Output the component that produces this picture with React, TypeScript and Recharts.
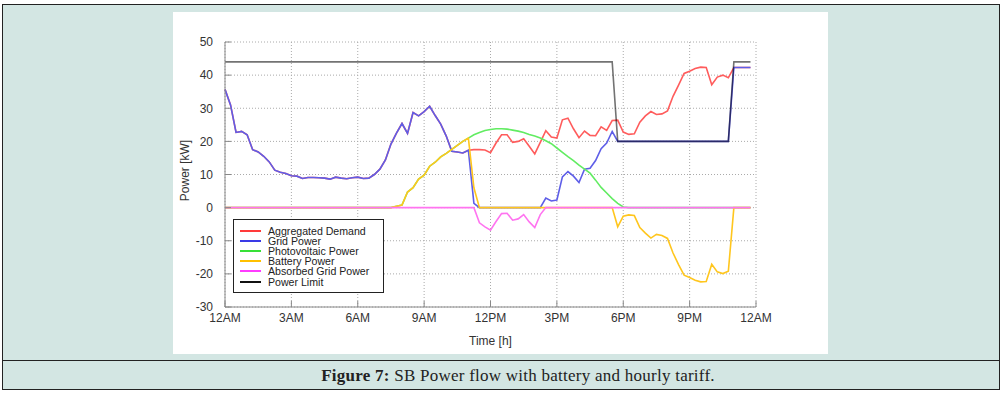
import { CartesianGrid, Legend, Line, LineChart, XAxis, YAxis } from 'recharts';

// 15-minute samples from 12AM (index 0) to 11:45PM (index 95), kW
const demand = [
  35.7, 31, 22.7, 23, 22, 17.5, 16.8, 15.5, 13.8, 11.3, 10.7, 10.3,
  9.6, 9.5, 8.8, 9.1, 9.1, 9.0, 8.9, 8.6, 9.2, 8.9, 8.7, 9.0,
  9.2, 8.8, 8.9, 10.0, 11.6, 14.4, 19.2, 22.5, 25.4, 22.4, 28.7, 27.7,
  29.0, 30.6, 27.8, 25.2, 21.6, 17, 16.8, 16.5, 17.3, 17.5, 17.5, 17.4,
  16.6, 19.5, 22, 22, 19.7, 20, 20.8, 18.5, 16.2, 19.7, 23.2, 21.3,
  21, 26.5, 27, 23.8, 21.1, 23.1, 21.8, 21.7, 24.4, 23.3, 26.3, 26.4,
  22.8, 22.1, 22.3, 25.8, 27.7, 29, 28.1, 28.3, 29.2, 33.6, 37, 40.5,
  41.2, 42, 42.4, 42.3, 37.1, 39.4, 40, 39.2, 42.3, 42.3, 42.3, 42.3,
];
const grid = [
  35.7, 31, 22.7, 23, 22, 17.5, 16.8, 15.5, 13.8, 11.3, 10.7, 10.3,
  9.6, 9.5, 8.8, 9.1, 9.1, 9.0, 8.9, 8.6, 9.2, 8.9, 8.7, 9.0,
  9.2, 8.8, 8.9, 10.0, 11.6, 14.4, 19.2, 22.5, 25.4, 22.4, 28.7, 27.7,
  29.0, 30.6, 27.8, 25.2, 21.6, 17, 16.8, 16.5, 17.3, 1.3, 0, 0,
  0, 0, 0, 0, 0, 0, 0, 0, 0, 0, 2.9, 2.0,
  2.3, 9.3, 10.9, 9.5, 7.6, 11.6, 11.9, 14.2, 17.8, 19.5, 23, 20,
  20, 20, 20, 20, 20, 20, 20, 20, 20, 20, 20, 20,
  20, 20, 20, 20, 20, 20, 20, 20, 42.3, 42.3, 42.3, 42.3,
];
const photovoltaic = [
  0, 0, 0, 0, 0, 0, 0, 0, 0, 0, 0, 0,
  0, 0, 0, 0, 0, 0, 0, 0, 0, 0, 0, 0,
  0, 0, 0, 0, 0, 0, 0, 0.4, 0.8, 4.7, 6.0, 8.6,
  9.8, 12.5, 13.7, 15.3, 16.4, 17.6, 18.8, 20, 21, 22, 22.7, 23.3,
  23.6, 23.8, 23.8, 23.7, 23.4, 23.1, 22.7, 22.1, 21.6, 21.0, 20.2, 19.3,
  18.0, 16.7, 15.4, 14.2, 12.8, 11.6, 10.4, 8.3, 6.1, 4.4, 2.7, 1.3,
  0.2, 0, 0, 0, 0, 0, 0, 0, 0, 0, 0, 0,
  0, 0, 0, 0, 0, 0, 0, 0, 0, 0, 0, 0,
];
const battery = [
  0, 0, 0, 0, 0, 0, 0, 0, 0, 0, 0, 0,
  0, 0, 0, 0, 0, 0, 0, 0, 0, 0, 0, 0,
  0, 0, 0, 0, 0, 0, 0, 0.4, 0.8, 4.7, 6.0, 8.6,
  9.8, 12.5, 13.7, 15.3, 16.4, 17.6, 18.8, 20, 21, 6, 0, 0,
  0, 0, 0, 0, 0, 0, 0, 0, 0, 0, 0, 0,
  0, 0, 0, 0, 0, 0, 0, 0, 0, 0, 0, -5.8,
  -2.6, -2.2, -2.4, -6.0, -7.7, -9.2, -8.1, -8.4, -9.3, -13.7, -17.2, -20.4,
  -21.1, -21.9, -22.4, -22.3, -17.1, -19.4, -19.9, -19.2, 0, 0, 0, 0,
];
const absorbed = [
  0, 0, 0, 0, 0, 0, 0, 0, 0, 0, 0, 0,
  0, 0, 0, 0, 0, 0, 0, 0, 0, 0, 0, 0,
  0, 0, 0, 0, 0, 0, 0, 0, 0, 0, 0, 0,
  0, 0, 0, 0, 0, 0, 0, 0, 0, 0, -4.6, -5.8,
  -6.8, -4.2, -1.8, -1.7, -3.8, -3.4, -2.1, -4.3, -6.0, -2.1, 0, 0,
  0, 0, 0, 0, 0, 0, 0, 0, 0, 0, 0, 0,
  0, 0, 0, 0, 0, 0, 0, 0, 0, 0, 0, 0,
  0, 0, 0, 0, 0, 0, 0, 0, 0, 0, 0, 0,
];
const powerLimit = [
  44, 44, 44, 44, 44, 44, 44, 44, 44, 44, 44, 44,
  44, 44, 44, 44, 44, 44, 44, 44, 44, 44, 44, 44,
  44, 44, 44, 44, 44, 44, 44, 44, 44, 44, 44, 44,
  44, 44, 44, 44, 44, 44, 44, 44, 44, 44, 44, 44,
  44, 44, 44, 44, 44, 44, 44, 44, 44, 44, 44, 44,
  44, 44, 44, 44, 44, 44, 44, 44, 44, 44, 44, 20,
  20, 20, 20, 20, 20, 20, 20, 20, 20, 20, 20, 20,
  20, 20, 20, 20, 20, 20, 20, 20, 44, 44, 44, 44,
];

const xTicks = [0, 3, 6, 9, 12, 15, 18, 21, 24];
const xTickLabels = ['12AM', '3AM', '6AM', '9AM', '12PM', '3PM', '6PM', '9PM', '12AM'];
const yTicks = [-30, -20, -10, 0, 10, 20, 30, 40, 50];

const series = [
  { key: 'demand', name: 'Aggregated Demand', color: '#ff5c5c', legend: '#ff3a3a' },
  { key: 'grid', name: 'Grid Power', color: '#5e5ee8', legend: '#3a3ae6' },
  { key: 'pv', name: 'Photovoltaic Power', color: '#62ec62', legend: '#38e038' },
  { key: 'battery', name: 'Battery Power', color: '#ffc61e', legend: '#ffc000' },
  { key: 'absorbed', name: 'Absorbed Grid Power', color: '#ff74f0', legend: '#ff3cff' },
  { key: 'limit', name: 'Power Limit', color: '#000000', legend: '#111111' },
];

const data = demand.map((_, i) => ({
  h: i / 4,
  demand: demand[i],
  grid: grid[i],
  pv: photovoltaic[i],
  battery: battery[i],
  absorbed: absorbed[i],
  limit: powerLimit[i],
}));

const TICK_GAP = 6;
const FONT = '"Liberation Sans", Arial, sans-serif';

const XTick = ({ x, y, payload }: any) => (
  <g>
    <line x1={x} x2={x} y1={y - TICK_GAP} y2={y - TICK_GAP - 6} stroke="#888" />
    <text x={x} y={y} dy="0.71em" textAnchor="middle" fill="#333" fontSize={12} fontFamily={FONT}>
      {xTickLabels[xTicks.indexOf(payload.value)]}
    </text>
  </g>
);

const YTick = ({ x, y, payload }: any) => (
  <g>
    <line x1={x + 12} x2={x + 18} y1={y} y2={y} stroke="#888" />
    <text x={x} y={y} dy="0.355em" textAnchor="end" fill="#333" fontSize={12} fontFamily={FONT}>
      {payload.value}
    </text>
  </g>
);

const LegendBox = () => (
  <div
    style={{
      width: 143,
      border: '1px solid #222',
      background: '#fff',
      padding: '6px 0 5px 6px',
      fontFamily: FONT,
      fontSize: 10.6,
      color: '#222',
    }}
  >
    {series.map((s) => (
      <div key={s.key} style={{ display: 'flex', alignItems: 'center', height: 10.1, whiteSpace: 'nowrap' }}>
        <span style={{ display: 'inline-block', width: 21, borderTop: `2px solid ${s.legend}`, marginRight: 7 }} />
        {s.name}
      </div>
    ))}
  </div>
);

export default function App() {
  return (
    <div style={{ position: 'absolute', left: 0, top: 0, width: 1004, height: 395, background: '#fff' }}>
      <div
        style={{
          position: 'absolute',
          left: 2,
          top: 4,
          width: 996,
          height: 384,
          background: '#d3e6e3',
          border: '1.5px solid #222',
        }}
      />
      <div style={{ position: 'absolute', left: 2, top: 360, width: 998, borderTop: '1.5px solid #222' }} />
      <div style={{ position: 'absolute', left: 173, top: 12, width: 655, height: 342, background: '#fff' }}>
        <LineChart
          width={655}
          height={342}
          data={data}
          margin={{ top: 30, right: 72, bottom: 7, left: 0 }}
          style={{ fontFamily: FONT }}
        >
          <CartesianGrid stroke="#aaa" strokeDasharray="1 2" />
          <XAxis
            type="number"
            dataKey="h"
            domain={[0, 24]}
            ticks={xTicks}
            height={40}
            tickSize={0}
            tickMargin={TICK_GAP}
            tickLine={false}
            axisLine={{ stroke: '#888' }}
            tick={<XTick />}
            label={{ value: 'Time [h]', position: 'insideBottom', offset: 2, fill: '#333', fontSize: 12 }}
          />
          <YAxis
            type="number"
            domain={[-30, 50]}
            ticks={yTicks}
            width={52}
            tickSize={0}
            tickMargin={12}
            tickLine={false}
            axisLine={{ stroke: '#888' }}
            tick={<YTick />}
            label={{
              value: 'Power [kW]',
              angle: -90,
              position: 'insideLeft',
              offset: 12,
              dy: -4,
              fill: '#333',
              fontSize: 12,
              style: { textAnchor: 'middle' },
            }}
          />
          <Legend
            content={() => <LegendBox />}
            layout="vertical"
            align="center"
            verticalAlign="middle"
            wrapperStyle={{ left: 60, top: 207, width: 145 }}
          />
          {series.map((s) => (
            <Line
              key={s.key}
              type="linear"
              dataKey={s.key}
              name={s.name}
              stroke={s.color}
              strokeOpacity={s.key === 'limit' ? 0.55 : 1}
              strokeWidth={1.6}
              dot={false}
              activeDot={false}
              isAnimationActive={false}
            />
          ))}
        </LineChart>
      </div>
      <div
        style={{
          position: 'absolute',
          left: 2,
          top: 362,
          width: 998,
          height: 27,
          display: 'flex',
          alignItems: 'center',
          justifyContent: 'center',
          paddingLeft: 34,
          boxSizing: 'border-box',
          fontFamily: '"Liberation Serif", "DejaVu Serif", serif',
          fontSize: 17,
          letterSpacing: 0.25,
          color: '#222',
        }}
      >
        <span>
          <b>Figure 7:</b> SB Power flow with battery and hourly tariff.
        </span>
      </div>
    </div>
  );
}
